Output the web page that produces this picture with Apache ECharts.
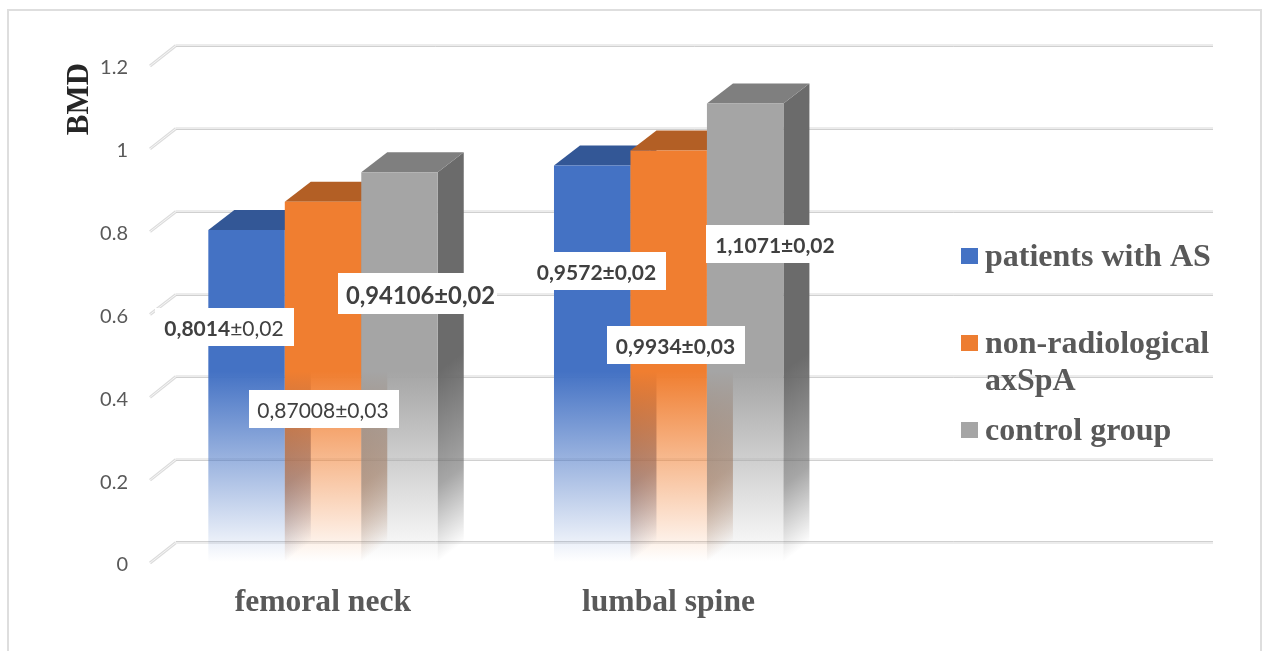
<!DOCTYPE html>
<html>
<head>
<meta charset="utf-8">
<style>
html, body { margin: 0; padding: 0; background: #fff; overflow: hidden; }
#chart { width: 1262px; height: 651px; }
</style>
<script src="https://cdn.jsdelivr.net/npm/echarts@6/dist/echarts.min.js"></script>
</head>
<body>
<div id="chart"></div>
<script>
////////////////////
// data
////////////////////
var categories = ['femoral neck', 'lumbal spine', ''];
var seriesNames = ['patients with AS', 'non-radiological axSpA', 'control group'];
var valuesAS = [0.8014, 0.9572];
var valuesNr = [0.87008, 0.9934];
var valuesControl = [0.94106, 1.1071];
var yTicks = [0, 0.2, 0.4, 0.6, 0.8, 1, 1.2];
var labelsAS = ['0,8014±0,02', '0,9572±0,02'];
var labelsNr = ['0,87008±0,03', '0,9934±0,03'];
var labelsControl = ['0,94106±0,02', '1,1071±0,02'];

////////////////////
// look of the 3d bars
////////////////////
var FONT_SERIF = '"Liberation Serif", "Times New Roman", serif';
var FONT_SANS = 'Lato, "Open Sans", sans-serif';
var LEGEND_SIZE = 32;
var DEPTH_X = 26;
var DEPTH_Y = 20;
var FADE_FROM = 0.46;   // bars start to fade out below this value
var faces = [
    {front: [68, 114, 196], top: '#335796', side: [44, 74, 128]},
    {front: [240, 126, 48], top: '#b35f25', side: [154, 81, 32]},
    {front: [165, 165, 165], top: '#7f7f7f', side: [107, 107, 107]}
];

function rgba(c, a){
    return 'rgba(' + c[0] + ',' + c[1] + ',' + c[2] + ',' + a + ')';
}

function render_bar(params, api){
    var f = faces[params.seriesIndex - 1];
    var base = api.coord([api.value(0), 0]);
    var top = api.coord([api.value(0), api.value(1)]);
    var fadeY = api.coord([api.value(0), FADE_FROM])[1];
    var band = api.size([1, 0])[0];
    var w = band / 4.52;
    var x0 = base[0] + (params.seriesIndex - 2) * w - w / 2 + 0.2;
    var x1 = x0 + w;

    // the side fades along the slant of the floor
    var n = Math.sqrt(DEPTH_X * DEPTH_X + DEPTH_Y * DEPTH_Y);
    var len = (base[1] - fadeY) * DEPTH_X / n;
    var sideFill = {
        type: 'linear', global: true,
        x: x1, y: fadeY,
        x2: x1 + DEPTH_Y / n * len, y2: fadeY + DEPTH_X / n * len,
        colorStops: [
            {offset: 0, color: rgba(f.side, 1)},
            {offset: 0.6, color: rgba(f.side, 0.6)},
            {offset: 1, color: rgba(f.side, 0)}
        ]
    };
    var frontFill = {
        type: 'linear', global: true,
        x: 0, y: fadeY, x2: 0, y2: base[1],
        colorStops: [
            {offset: 0, color: rgba(f.front, 1)},
            {offset: 1, color: rgba(f.front, 0)}
        ]
    };
    return {
        type: 'group',
        children: [
            {
                type: 'polygon',
                shape: {points: [[x1, top[1]], [x1 + DEPTH_X, top[1] - DEPTH_Y], [x1 + DEPTH_X, base[1] - DEPTH_Y], [x1, base[1]]]},
                style: {fill: sideFill}
            },
            {
                type: 'polygon',
                shape: {points: [[x0, top[1]], [x1, top[1]], [x1 + DEPTH_X, top[1] - DEPTH_Y], [x0 + DEPTH_X, top[1] - DEPTH_Y]]},
                style: {fill: f.top}
            },
            {
                type: 'rect',
                shape: {x: x0, y: top[1], width: w, height: base[1] - top[1]},
                style: {fill: frontFill}
            }
        ]
    };
}

// grid lines run along the left wall and the back wall
function render_wall(params, api){
    var p = api.coord([0, api.value(1)]);
    var left = params.coordSys.x;
    var right = left + params.coordSys.width + DEPTH_X;
    var y = Math.round(p[1]) - DEPTH_Y + 0.5;
    var isFloor = api.value(1) === 0;
    return {
        type: 'group',
        children: [
            {type: 'polyline', shape: {points: [[left, p[1] + 1], [left + DEPTH_X, y]]}, style: {stroke: '#dcdcdc', lineWidth: 3, fill: null}},
            {type: 'polyline', shape: {points: [[left, p[1] + 1], [left + DEPTH_X, y]]}, style: {stroke: '#f6f6f6', lineWidth: 1, fill: null}},
            {type: 'line', shape: {x1: left + DEPTH_X, y1: y, x2: right, y2: y}, style: {stroke: '#ececec', lineWidth: 3}},
            {type: 'line', shape: {x1: left + DEPTH_X, y1: isFloor ? y - 1 : y + 1, x2: right, y2: isFloor ? y - 1 : y + 1}, style: {stroke: '#d0d0d0', lineWidth: 1}}
        ]
    };
}

function bar_data(values){
    return values.map(function(v, i){ return [i, v]; });
}

function bar_series(name, values, color){
    return {
        name: name,
        type: 'custom',
        renderItem: render_bar,
        itemStyle: {color: color},
        encode: {x: 0, y: 1},
        data: bar_data(values),
        silent: true
    };
}

function legend_item(name, top){
    return {
        data: [name],
        left: 961,
        top: top,
        icon: 'rect',
        itemWidth: 17,
        itemHeight: 16,
        selectedMode: false,
        padding: 0,
        textStyle: {
            rich: {
                t: {fontFamily: FONT_SERIF, fontWeight: 'bold', fontSize: LEGEND_SIZE, color: '#595959', lineHeight: 34, padding: [4, 0, 0, 2]}
            }
        },
        formatter: function(s){
            // the second line of the long name is placed below as its own text
            return '{t|' + s.replace(' axSpA', '') + '}';
        }
    };
}

// white data label box with its text centred on tx
function label_box(text, l, t, r, b, tx, weight, size){
    var rich = null;
    var shown = text;
    if(weight == 'mixed'){
        var parts = text.split('±');
        shown = '{b|' + parts[0] + '}{r|±' + parts[1] + '}';
        rich = {
            b: {fontFamily: FONT_SANS, fontSize: size, fontWeight: 'bold', fill: '#404040'},
            r: {fontFamily: FONT_SANS, fontSize: size, fontWeight: 'normal', fill: '#404040'}
        };
    }
    return {
        type: 'group',
        z: 100,
        children: [
            {type: 'rect', z: 100, shape: {x: l, y: t, width: r - l, height: b - t}, style: {fill: '#fff'}},
            {
                type: 'text', z: 101,
                x: tx, y: (t + b) / 2 + 2.5,
                style: {
                    text: shown,
                    rich: rich,
                    fill: '#404040',
                    font: (weight == 'mixed' ? 'normal' : weight) + ' ' + size + 'px ' + FONT_SANS,
                    align: 'center',
                    verticalAlign: 'middle'
                }
            }
        ]
    };
}

var mychart = echarts.init(document.getElementById('chart'), null, {renderer: 'canvas'});
var chart_option = {
    animation: false,
    backgroundColor: '#fff',
    grid: {left: 150, right: 75, top: 65, bottom: 89},
    legend: [
        legend_item(seriesNames[0], 238),
        legend_item(seriesNames[1], 325),
        legend_item(seriesNames[2], 412)
    ],
    xAxis: {
        type: 'category',
        data: categories,
        axisLine: {show: false},
        axisTick: {show: false},
        axisLabel: {
            fontFamily: FONT_SERIF,
            fontWeight: 'bold',
            fontSize: 31.6,
            color: '#595959',
            margin: 25
        }
    },
    yAxis: {
        type: 'value',
        min: 0,
        max: 1.2,
        interval: 0.2,
        splitLine: {show: false},
        axisLine: {show: false},
        axisTick: {show: false},
        axisLabel: {
            formatter: '{t|{value}}',
            margin: 22,
            rich: {
                t: {fontFamily: FONT_SANS, fontSize: 20, color: '#595959', padding: [6, 0, 0, 0]}
            }
        }
    },
    series: [
        {
            type: 'custom',
            name: 'wall',
            renderItem: render_wall,
            encode: {x: 0, y: 1},
            data: yTicks.map(function(v){ return [0, v]; }),
            silent: true,
            z: 1
        },
        bar_series(seriesNames[0], valuesAS, '#4472c4'),
        bar_series(seriesNames[1], valuesNr, '#ed7d31'),
        bar_series(seriesNames[2], valuesControl, '#a5a5a5')
    ],
    graphic: [
        {type: 'rect', z: 0, shape: {x: 8, y: 10, width: 1253, height: 700}, style: {fill: null, stroke: '#dedede', lineWidth: 2}},
        {
            type: 'text', z: 100, x: 80, y: 99, rotation: Math.PI / 2,
            style: {text: 'BMD', fill: '#262626', font: 'bold 31px ' + FONT_SERIF, align: 'center', verticalAlign: 'middle'}
        },
        {
            type: 'text', z: 100, x: 985, y: 382,
            style: {text: 'axSpA', fill: '#595959', font: 'bold ' + LEGEND_SIZE + 'px ' + FONT_SERIF, align: 'left', verticalAlign: 'middle'}
        },
        label_box(labelsAS[0], 155, 308, 294, 346, 224, 'mixed', 21),
        label_box(labelsControl[0], 338, 273, 497, 314, 420.5, 'bold', 23.8),
        label_box(labelsNr[0], 249, 390, 399, 428, 323, 'normal', 21),
        label_box(labelsAS[1], 528, 252, 666, 290, 596.5, 'bold', 21),
        label_box(labelsNr[1], 607, 326, 745, 364, 675.5, 'bold', 21),
        label_box(labelsControl[1], 706, 225, 838, 263, 775, 'bold', 21)
    ]
};
mychart.setOption(chart_option);
</script>
</body>
</html>
